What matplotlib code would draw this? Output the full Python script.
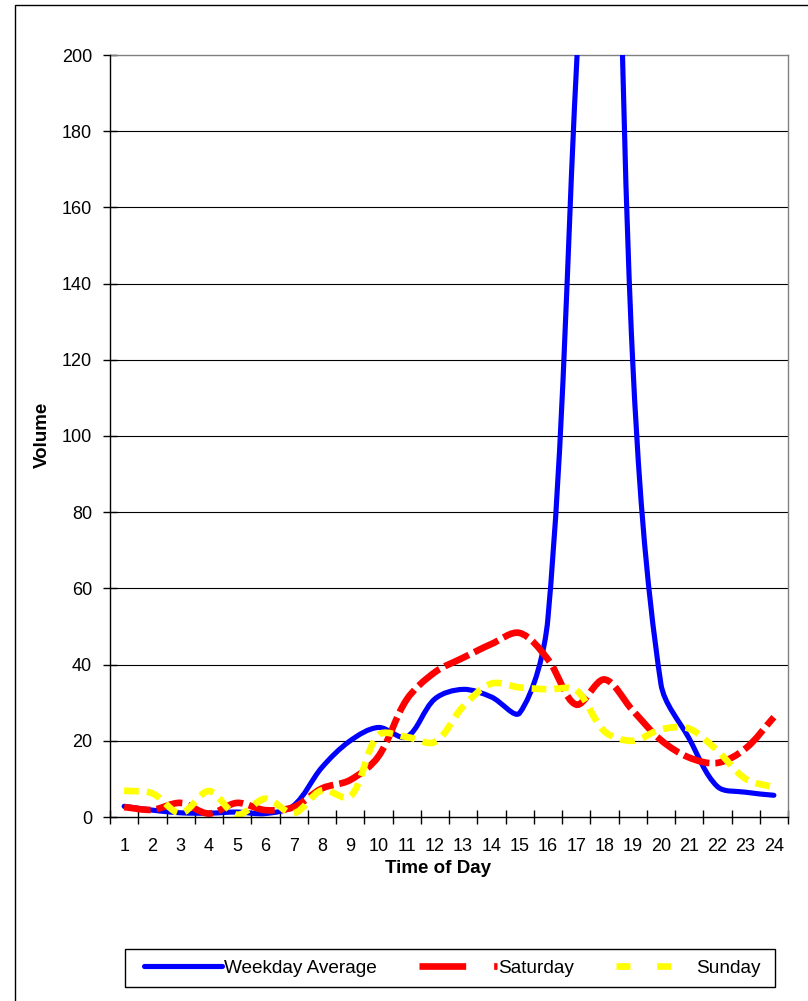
import matplotlib
matplotlib.use("Agg")
import matplotlib.pyplot as plt
from matplotlib.path import Path
from matplotlib.patches import PathPatch, Rectangle
from matplotlib.lines import Line2D

# ---- data ----
hours = list(range(1, 25))
hour_labels = [str(h) for h in hours]
weekday = [2.8, 1.8, 1.1, 1.0, 1.3, 0.9, 3.0, 13.0, 20.0, 23.5, 21.0, 31.0,
           33.5, 31.5, 27.3, 52.0, 195.0, 340.0, 120.0, 35.0, 20.6, 8.0, 6.5, 5.7]
saturday = [2.6, 1.9, 3.7, 0.9, 3.7, 1.8, 2.6, 7.5, 9.7, 15.9, 30.8, 38.0,
            41.8, 45.4, 48.3, 41.4, 29.5, 36.1, 28.0, 20.2, 15.6, 14.2, 18.0, 26.2]
sunday = [6.9, 6.2, 1.0, 6.8, 0.6, 4.8, 1.0, 7.0, 5.3, 21.5, 21.0, 19.7,
          29.0, 35.0, 34.0, 33.5, 33.3, 22.5, 20.0, 23.0, 23.2, 17.4, 10.0, 7.8]
series_names = ["Weekday Average", "Saturday", "Sunday"]
y_ticks = list(range(0, 201, 20))

plt.rcParams['font.family'] = ['Liberation Sans', 'DejaVu Sans']

W, H = 808, 1001
fig = plt.figure(figsize=(W / 100, H / 100), dpi=100)

def fx(px):
    return px / W

def fy(py):
    return 1 - py / H

ax = fig.add_axes([fx(110), fy(817), fx(788) - fx(110), fy(55) - fy(817)])
ax.set_xlim(0.5, 24.5)
ax.set_ylim(0, 200)

# display scale (pixels per data unit) used to shape the smoothing like Excel does
bb = ax.get_position()
SX = bb.width * W / 24.0
SY = bb.height * H / 200.0


def smooth_path(xs, ys):
    """Excel-style smoothed line: cubic Bezier segments through every data point,
    tangent lengths weighted by neighbouring segment lengths on screen."""
    n = len(xs)
    P = [(x * SX, y * SY) for x, y in zip(xs, ys)]
    dist = [((P[i + 1][0] - P[i][0]) ** 2 + (P[i + 1][1] - P[i][1]) ** 2) ** 0.5
            for i in range(n - 1)]
    after, before = [None] * n, [None] * n
    for i in range(n):
        a = max(i - 1, 0)
        b = min(i + 1, n - 1)
        tx, ty = P[b][0] - P[a][0], P[b][1] - P[a][1]
        d0 = dist[i - 1] if i > 0 else 0.0
        d1 = dist[i] if i < n - 1 else 0.0
        if i == 0 or i == n - 1:
            k0 = k1 = 1.0 / 3.0
        else:
            k0 = d0 / (d0 + d1) / 3.0 * 1.0
            k1 = d1 / (d0 + d1) / 3.0 * 1.0
        before[i] = (P[i][0] - tx * k0, P[i][1] - ty * k0)
        after[i] = (P[i][0] + tx * k1, P[i][1] + ty * k1)
    verts = [P[0]]
    codes = [Path.MOVETO]
    for i in range(n - 1):
        verts += [after[i], before[i + 1], P[i + 1]]
        codes += [Path.CURVE4] * 3
    verts = [(vx / SX, vy / SY) for vx, vy in verts]
    return Path(verts, codes)


# grid lines
for v in y_ticks[1:-1]:
    ax.axhline(v, color='black', lw=0.8, zorder=1)

blue_lw = 3.7
red_lw = 4.8
yel_lw = 4.8

ax.add_patch(PathPatch(smooth_path(hours, weekday), fill=False, edgecolor='#0000FF',
                       lw=blue_lw, capstyle='round', joinstyle='round', zorder=3))
ax.add_patch(PathPatch(smooth_path(hours, saturday), fill=False, edgecolor='#FF0000',
                       lw=red_lw, linestyle=(0, (4.0, 0.9)), capstyle='butt', zorder=4))
ax.add_patch(PathPatch(smooth_path(hours, sunday), fill=False, edgecolor='#FFFF00',
                       lw=yel_lw, linestyle=(0, (2.2, 1.2)), capstyle='butt', zorder=5))

# axes styling
for side in ['top', 'right']:
    ax.spines[side].set_color('#808080')
    ax.spines[side].set_linewidth(1.0)
for side in ['left', 'bottom']:
    ax.spines[side].set_color('black')
    ax.spines[side].set_linewidth(1.0)
    ax.spines[side].set_zorder(6)

ax.set_yticks(y_ticks)
ax.set_yticklabels([str(v) for v in y_ticks])
ax.tick_params(axis='y', direction='inout', length=10, width=1, pad=8, labelsize=13)

ax.set_xticks(hours)
ax.set_xticklabels(hour_labels)
ax.set_xticks([h + 0.5 for h in [0] + hours], minor=True)
ax.tick_params(axis='x', which='major', length=0, pad=15, labelsize=13)
ax.tick_params(axis='x', which='minor', direction='inout', length=10, width=1)

ax.set_xlabel('Time of Day', fontsize=13.5, fontweight='bold')
ax.xaxis.set_label_coords((438 - 110) / 678, (817 - 860) / 762)
ax.set_ylabel('Volume', fontsize=13.5, fontweight='bold')
ax.yaxis.set_label_coords((51 - 110) / 678, (817 - 435) / 762)

# outer chart border
fig.patches.append(Rectangle((fx(15), -0.5), 2, fy(5) + 0.5, transform=fig.transFigure,
                             fill=False, edgecolor='black', lw=1.0, clip_on=False))
# legend frame
fig.patches.append(Rectangle((fx(125), fy(987)), fx(775) - fx(125), fy(949) - fy(987),
                             transform=fig.transFigure, fill=False, edgecolor='black',
                             lw=1.0))

handles = [
    Line2D([], [], color='#0000FF', lw=blue_lw, solid_capstyle='round'),
    Line2D([], [], color='#FF0000', lw=red_lw, linestyle=(0, (7.0, 4.2)), dash_capstyle='butt'),
    Line2D([], [], color='#FFFF00', lw=yel_lw, linestyle=(0, (2.1, 4.0)), dash_capstyle='butt'),
]
fig.legend(handles, series_names, loc='center left', bbox_to_anchor=(fx(144), fy(968)),
           ncol=3, frameon=False, fontsize=13.7, handlelength=4.1, handletextpad=0.1,
           columnspacing=2.2, borderpad=0, borderaxespad=0)

fig.savefig('out.png', dpi=100)
